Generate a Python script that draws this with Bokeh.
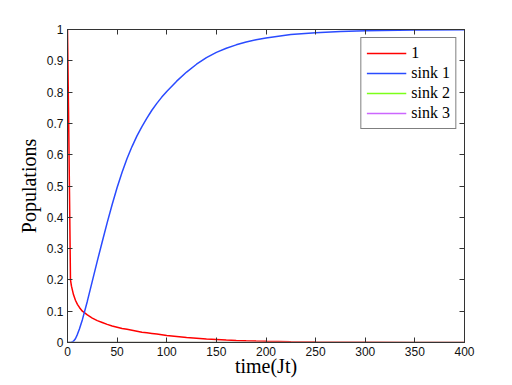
from bokeh.plotting import figure
from bokeh.models import Range1d, LinearAxis, FixedTicker, Legend, LegendItem
from bokeh.embed import file_html
from bokeh.resources import INLINE

# ---- data ----
time = [0, 1, 2, 3, 4, 6, 8, 10, 12, 15, 20, 25, 30, 35, 40, 45, 50, 55, 60,
        65, 70, 75, 80, 85, 90, 95, 100, 110, 120, 130, 140, 150, 160, 170,
        180, 190, 200, 225, 250, 275, 300, 350, 400]
site_1 = [1.0, 0.75, 0.48, 0.2, 0.18, 0.153, 0.135, 0.122, 0.112, 0.1, 0.088,
          0.078, 0.07, 0.064, 0.058, 0.053, 0.049, 0.045, 0.042, 0.039, 0.036,
          0.033, 0.031, 0.029, 0.027, 0.0245, 0.022, 0.019, 0.016, 0.0135,
          0.011, 0.0095, 0.008, 0.0067, 0.0055, 0.0047, 0.004, 0.0026, 0.0017,
          0.0011, 0.0007, 0.0003, 0.0001]
sink_1 = [0.0, 0.0, 0.0, 0.0, 0.001, 0.004, 0.012, 0.026, 0.043, 0.073, 0.132,
          0.196, 0.26, 0.322, 0.383, 0.441, 0.495, 0.544, 0.588, 0.626, 0.66,
          0.69, 0.717, 0.742, 0.764, 0.784, 0.802, 0.835, 0.864, 0.889, 0.91,
          0.927, 0.94, 0.951, 0.96, 0.967, 0.973, 0.984, 0.99, 0.994, 0.996,
          0.9987, 0.9995]
sink_2 = [0.0] * len(time)
sink_3 = [0.0] * len(time)

series_names = ["1", "sink 1", "sink 2", "sink 3"]
series_colors = ["#ff0000", "#2a4bff", "#7cff1a", "#cc66ff"]

x_ticks = [0, 50, 100, 150, 200, 250, 300, 350, 400]
x_tick_labels = ["0", "50", "100", "150", "200", "250", "300", "350", "400"]
y_ticks = [0, 0.1, 0.2, 0.3, 0.4, 0.5, 0.6, 0.7, 0.8, 0.9, 1.0]
y_tick_labels = ["0", "0.1", "0.2", "0.3", "0.4", "0.5", "0.6", "0.7", "0.8", "0.9", "1"]

AX = "#333333"
TICK_FONT = "Liberation Sans"
SERIF = "Liberation Serif"

p = figure(width=504, height=385, output_backend="svg", toolbar_location=None,
           x_range=Range1d(0, 400), y_range=Range1d(0, 1),
           min_border_left=67, min_border_right=40, min_border_top=29,
           min_border_bottom=43)
p.xgrid.visible = False
p.ygrid.visible = False
p.outline_line_color = AX
p.outline_line_width = 1
p.background_fill_color = "white"
p.border_fill_color = "white"

renderers = []
for ys, c in zip([site_1, sink_1, sink_2, sink_3], series_colors):
    renderers.append(p.line(time, ys, line_color=c, line_width=1.5))

def style_axis(ax, ticks, labels, show_labels=True):
    ax.ticker = FixedTicker(ticks=ticks)
    if show_labels:
        ax.major_label_overrides = {t: l for t, l in zip(ticks, labels)}
    else:
        ax.major_label_overrides = {t: "" for t in ticks}
    ax.major_tick_in = 5
    ax.major_tick_out = 0
    ax.minor_tick_line_color = None
    ax.major_tick_line_color = AX
    ax.axis_line_color = AX
    ax.major_label_text_font = TICK_FONT
    ax.major_label_text_font_size = "12px"
    ax.major_label_text_color = "#111111"
    ax.major_label_standoff = 4 if show_labels else 0

style_axis(p.xaxis[0], x_ticks, x_tick_labels)
style_axis(p.yaxis[0], y_ticks, y_tick_labels)
p.xaxis[0].axis_label = "time(Jt)"
p.yaxis[0].axis_label = "Populations"
for ax in (p.xaxis[0], p.yaxis[0]):
    ax.axis_label_text_font = SERIF
    ax.axis_label_text_font_size = "20px"
    ax.axis_label_text_font_style = "normal"
    ax.axis_label_text_color = "#000000"
p.xaxis[0].axis_label_standoff = -4
p.yaxis[0].axis_label_standoff = 4

top_ax = LinearAxis()
style_axis(top_ax, x_ticks, x_tick_labels, show_labels=False)
p.add_layout(top_ax, "above")
right_ax = LinearAxis()
style_axis(right_ax, y_ticks, y_tick_labels, show_labels=False)
p.add_layout(right_ax, "right")

legend = Legend(items=[LegendItem(label=n, renderers=[r]) for n, r in zip(series_names, renderers)],
                location="top_right")
legend.margin = 8
legend.padding = 5
legend.spacing = 0
legend.glyph_width = 40
legend.glyph_height = 20
legend.label_height = 20
legend.label_standoff = 5
legend.label_text_font = SERIF
legend.label_text_font_size = "16px"
legend.label_text_color = "#000000"
legend.border_line_color = "#000000"
legend.border_line_width = 1
legend.background_fill_color = "white"
legend.background_fill_alpha = 1.0
p.add_layout(legend, "center")

open("out.html", "w").write(file_html(p, INLINE))
